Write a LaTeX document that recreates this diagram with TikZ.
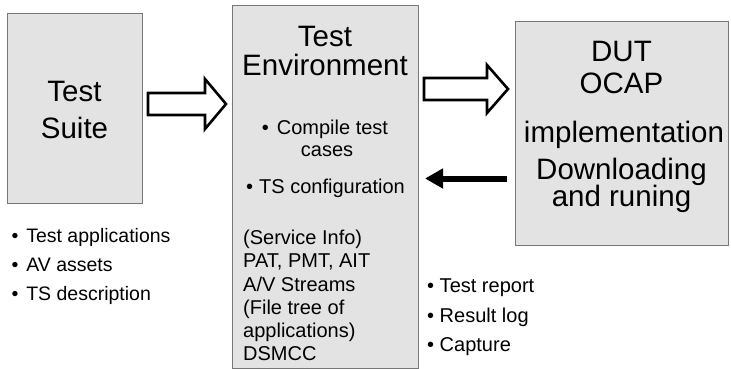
\documentclass[tikz,border=0pt]{standalone}
\usepackage{fontspec}
\setmainfont{Liberation Sans}
\usetikzlibrary{arrows.meta}
\definecolor{boxfill}{HTML}{E3E3E3}
\definecolor{boxline}{HTML}{777777}
\begin{document}
\begin{tikzpicture}[x=1pt,y=-1pt,
  box/.style={draw=boxline, fill=boxfill, line width=1pt, inner sep=0pt, outer sep=0pt},
  big/.style={font=\fontsize{29.5}{31}\selectfont, anchor=base, inner sep=0pt},
  smallc/.style={font=\fontsize{20}{22}\selectfont, anchor=base, inner sep=0pt},
  smalll/.style={font=\fontsize{20}{22}\selectfont, anchor=base west, inner sep=0pt},
  blockarrow/.style={draw=black, fill=white, line width=2.6pt, line join=miter},
  backarrow/.style={draw=black, line width=6pt, -{Triangle[length=18pt,width=19pt]}}]
\useasboundingbox (0,0) rectangle (731,369);
% boxes
\node[box, minimum width=135pt, minimum height=189pt] (suite) at (74.5,108.5) {};
\node[box, minimum width=186pt, minimum height=362pt] (env) at (325,187) {};
\node[box, minimum width=213pt, minimum height=223pt] (dut) at (621.5,133.5) {};
% Test Suite
\node[big] (ts1) at (74.5,102) {Test};
\node[big] (ts2) at (74.5,138) {Suite};
% Test Environment
\node[big] (te1) at (325,47) {Test};
\node[big] (te2) at (325,76) {Environment};
\node[smallc] (te3) at (325,134) {•\hspace{0.4em}Compile test};
\node[smallc] (te4) at (327,156) {cases};
\node[smallc] (te5) at (325.5,193) {•\hspace{0.3em}TS configuration};
\node[smalll] (l1) at (243,244) {(Service Info)};
\node[smalll] (l2) at (243,267.5) {PAT, PMT, AIT};
\node[smalll] (l3) at (243,291) {A/V Streams};
\node[smalll] (l4) at (243,314) {(File tree of};
\node[smalll] (l5) at (243,337) {applications)};
\node[smalll] (l6) at (243,360) {DSMCC};
% DUT
\node[big] (d1) at (621.5,62) {DUT};
\node[big] (d2) at (621.5,93) {OCAP};
\node[big] (d3) at (624,142) {implementation};
\node[big] (d4) at (621.5,179) {Downloading};
\node[big] (d5) at (621.5,206) {and runing};
% lists
\node[smalll, font=\fontsize{19.5}{22}\selectfont] (a1) at (11.5,242) {•\hspace{0.4em}Test applications};
\node[smalll, font=\fontsize{19.5}{22}\selectfont] (a2) at (11.5,271.5) {•\hspace{0.4em}AV assets};
\node[smalll, font=\fontsize{19.5}{22}\selectfont] (a3) at (11.5,300.5) {•\hspace{0.4em}TS description};
\node[smalll] (b1) at (427,292) {• Test report};
\node[smalll] (b2) at (427,322) {• Result log};
\node[smalll] (b3) at (427,351) {• Capture};
% block arrows
\draw[blockarrow] (148,93) -- (205,93) -- (205,79) -- (226,104) -- (205,129) -- (205,115) -- (148,115) -- cycle;
\draw[blockarrow] (424,78) -- (487,78) -- (487,65) -- (508,89) -- (487,113) -- (487,100) -- (424,100) -- cycle;
% back arrow
\coordinate (r1) at (dut.west |- 0,178.5);
\coordinate (r2) at (env.east |- 0,178.5);
\draw[backarrow] ([xshift=-8pt]r1) -- ([xshift=7pt]r2);
\end{tikzpicture}
\end{document}
